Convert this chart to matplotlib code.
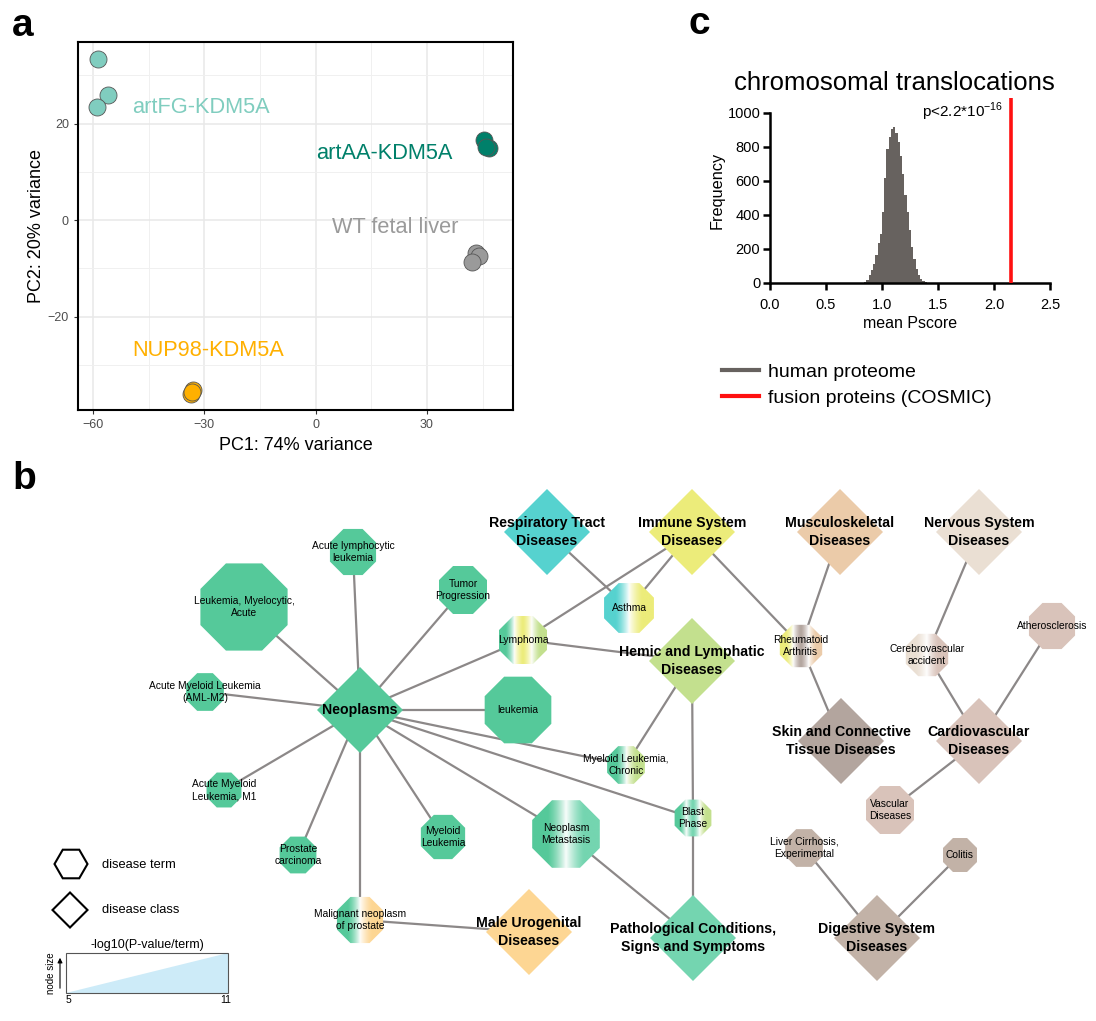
import numpy as np
import matplotlib
matplotlib.use('Agg')
import matplotlib.pyplot as plt
import matplotlib.colors as mcolors
from matplotlib.patches import RegularPolygon, Polygon, Rectangle
from matplotlib.lines import Line2D

plt.rcParams['font.family'] = ['Liberation Sans', 'DejaVu Sans']
plt.rcParams['mathtext.fontset'] = 'custom'
plt.rcParams['mathtext.rm'] = 'Liberation Sans'

W, H = 1096, 1021

# ---------------- panel a data (PCA) ----------------
pca_groups = ['artFG-KDM5A', 'artAA-KDM5A', 'WT fetal liver', 'NUP98-KDM5A']
pca_colors = ['#80cdbf', '#00806a', '#9a9a9a', '#ffb000']
pca_x = [[-58.7, -56.0, -58.9], [45.4, 46.8, 46.0], [43.2, 44.1, 42.2], [-33.0, -33.6, -33.4]]
pca_y = [[33.3, 25.9, 23.4], [16.6, 14.9, 15.1], [-6.8, -7.5, -8.7], [-35.2, -36.0, -35.6]]
pca_label_xy = [(-49.5, 23.4), (0.1, 13.9), (4.4, -1.6), (-49.5, -26.9)]

# ---------------- panel c data (histogram) ----------------
bin_centers = [0.85, 0.87, 0.89, 0.91, 0.93, 0.95, 0.97, 0.99, 1.01, 1.03, 1.05, 1.07,
               1.09, 1.11, 1.13, 1.15, 1.17, 1.19, 1.21, 1.23, 1.25, 1.27, 1.29, 1.31,
               1.33, 1.35, 1.37, 1.39]
bin_counts = [5, 20, 45, 75, 110, 165, 235, 290, 420, 620, 790, 860,
              905, 915, 880, 830, 745, 640, 520, 420, 310, 210, 140, 85,
              45, 22, 10, 4]
bin_width = 0.02
fusion_mean = 2.15

# ---------------- panel b data (disease network) ----------------
class_names = ['Neoplasms', 'Respiratory Tract\nDiseases', 'Immune System\nDiseases',
               'Musculoskeletal\nDiseases', 'Nervous System\nDiseases',
               'Hemic and Lymphatic\nDiseases', 'Skin and Connective\nTissue Diseases',
               'Cardiovascular\nDiseases', 'Male Urogenital\nDiseases',
               'Pathological Conditions,\nSigns and Symptoms', 'Digestive System\nDiseases']
class_keys = ['neo', 'resp', 'imm', 'musc', 'nerv', 'hem', 'skin', 'card', 'uro', 'path', 'dig']
class_x = [360, 547, 692, 840, 979, 692, 841, 979, 529, 693, 877]
class_y = [710, 532, 532, 532, 532, 661, 741, 741, 932, 938, 938]
class_colors = ['#55c99a', '#56d2cf', '#ecec7a', '#ebcba9', '#eadfd3', '#c3e08e',
                '#b3a59e', '#d9c3ba', '#fdd693', '#74d5b0', '#c2b2a7']

term_names = ['Leukemia, Myelocytic,\nAcute', 'Acute lymphocytic\nleukemia', 'Tumor\nProgression',
              'Lymphoma', 'Asthma', 'Acute Myeloid Leukemia\n(AML-M2)', 'leukemia',
              'Acute Myeloid\nLeukemia, M1', 'Myeloid Leukemia,\nChronic', 'Prostate\ncarcinoma',
              'Myeloid\nLeukemia', 'Neoplasm\nMetastasis', 'Blast\nPhase',
              'Malignant neoplasm\nof prostate', 'Rheumatoid\nArthritis', 'Cerebrovascular\naccident',
              'Atherosclerosis', 'Vascular\nDiseases', 'Liver Cirrhosis,\nExperimental', 'Colitis']
term_x = [244, 353, 463, 523, 629, 205, 518, 224, 626, 298, 443, 566, 693, 360,
          801, 927, 1052, 890, 804, 960]
term_y = [607, 552, 590, 640, 608, 692, 710, 790, 765, 855, 837, 834, 818, 920,
          646, 655, 626, 810, 848, 855]
term_logp = [10.7, 6.3, 6.5, 6.5, 6.7, 5.4, 8.5, 5.1, 5.4, 5.3, 6.1, 8.6, 5.3, 6.3,
             5.9, 5.9, 6.3, 6.5, 5.4, 5.0]
term_classes = [['neo'], ['neo'], ['neo'], ['neo', 'imm', 'hem'], ['resp', 'imm'], ['neo'], ['neo'],
                ['neo'], ['neo', 'hem'], ['neo'], ['neo'], ['neo', 'path'], ['neo', 'path', 'hem'],
                ['neo', 'uro'], ['imm', 'skin', 'musc'], ['nerv', 'card'],
                ['card'], ['card'], ['dig'], ['dig']]

edges = [('Neoplasms', 'Leukemia, Myelocytic,\nAcute'), ('Neoplasms', 'Acute lymphocytic\nleukemia'),
         ('Neoplasms', 'Tumor\nProgression'), ('Neoplasms', 'Lymphoma'),
         ('Neoplasms', 'Acute Myeloid Leukemia\n(AML-M2)'), ('Neoplasms', 'leukemia'),
         ('Neoplasms', 'Acute Myeloid\nLeukemia, M1'), ('Neoplasms', 'Myeloid Leukemia,\nChronic'),
         ('Neoplasms', 'Prostate\ncarcinoma'), ('Neoplasms', 'Myeloid\nLeukemia'),
         ('Neoplasms', 'Neoplasm\nMetastasis'), ('Neoplasms', 'Blast\nPhase'),
         ('Neoplasms', 'Malignant neoplasm\nof prostate'),
         ('Immune System\nDiseases', 'Lymphoma'), ('Hemic and Lymphatic\nDiseases', 'Lymphoma'),
         ('Respiratory Tract\nDiseases', 'Asthma'), ('Immune System\nDiseases', 'Asthma'),
         ('Immune System\nDiseases', 'Rheumatoid\nArthritis'),
         ('Musculoskeletal\nDiseases', 'Rheumatoid\nArthritis'),
         ('Skin and Connective\nTissue Diseases', 'Rheumatoid\nArthritis'),
         ('Hemic and Lymphatic\nDiseases', 'Myeloid Leukemia,\nChronic'),
         ('Hemic and Lymphatic\nDiseases', 'Blast\nPhase'),
         ('Pathological Conditions,\nSigns and Symptoms', 'Blast\nPhase'),
         ('Pathological Conditions,\nSigns and Symptoms', 'Neoplasm\nMetastasis'),
         ('Male Urogenital\nDiseases', 'Malignant neoplasm\nof prostate'),
         ('Nervous System\nDiseases', 'Cerebrovascular\naccident'),
         ('Cardiovascular\nDiseases', 'Cerebrovascular\naccident'),
         ('Cardiovascular\nDiseases', 'Atherosclerosis'),
         ('Cardiovascular\nDiseases', 'Vascular\nDiseases'),
         ('Digestive System\nDiseases', 'Liver Cirrhosis,\nExperimental'),
         ('Digestive System\nDiseases', 'Colitis')]

logp_range = [5, 11]

fig = plt.figure(figsize=(W / 100, H / 100), dpi=100)

# --- panel a ---
ax_a = fig.add_axes([78 / W, 1 - 410 / H, 435 / W, 368 / H])
ax_a.set_xlim(-64, 53.2)
ax_a.set_ylim(-39.3, 36.9)
ax_a.set_xticks([-60, -30, 0, 30])
ax_a.set_xticks([-45, -15, 15, 45], minor=True)
ax_a.set_yticks([-20, 0, 20])
ax_a.set_yticks([-30, -10, 10, 30], minor=True)
ax_a.grid(which='major', color='#e8e8e8', lw=1.1)
ax_a.grid(which='minor', color='#f0f0f0', lw=0.7)
ax_a.set_axisbelow(True)
ax_a.tick_params(which='minor', length=0)
ax_a.tick_params(which='major', length=3, color='#333333', labelcolor='#4d4d4d', labelsize=9)
for sp in ax_a.spines.values():
    sp.set_linewidth(1.5)
for i, g in enumerate(pca_groups):
    ax_a.scatter(pca_x[i], pca_y[i], s=150, color=pca_colors[i], edgecolors='#555555',
                 linewidths=0.6, zorder=3)
    ax_a.text(pca_label_xy[i][0], pca_label_xy[i][1], g, color=pca_colors[i], fontsize=15.7,
              ha='left', va='center')
ax_a.set_xlabel('PC1: 74% variance', fontsize=13, labelpad=4)
ax_a.set_ylabel('PC2: 20% variance', fontsize=13, labelpad=2)

# --- panel c ---
ax_c = fig.add_axes([770 / W, 1 - 283 / H, 280 / W, 185 / H])
ax_c.bar(bin_centers, bin_counts, width=bin_width, color='#67625f', linewidth=0, zorder=2)
ax_c.axvline(fusion_mean, color='#ff1010', lw=2.6, zorder=3)
ax_c.set_xlim(0, 2.5)
ax_c.set_ylim(0, 1088)
ax_c.spines['top'].set_visible(False)
ax_c.spines['right'].set_visible(False)
ax_c.spines['left'].set_bounds(0, 1000)
for sp in ['left', 'bottom']:
    ax_c.spines[sp].set_linewidth(1.8)
ax_c.set_xticks([0, 0.5, 1.0, 1.5, 2.0, 2.5])
ax_c.set_xticklabels(['0.0', '0.5', '1.0', '1.5', '2.0', '2.5'])
ax_c.set_yticks([0, 200, 400, 600, 800, 1000])
ax_c.tick_params(length=5, width=1.8, labelsize=10.5)
ax_c.tick_params(axis='x', pad=6)
ax_c.tick_params(axis='y', pad=2)
ax_c.set_xlabel('mean Pscore', fontsize=11.5, labelpad=3)
ax_c.set_ylabel('Frequency', fontsize=11.7, labelpad=2)
ax_c.set_title('chromosomal translocations', fontsize=18.5, pad=6, x=0.443)
ax_c.text(2.08, 1006, r'p<2.2*10$^{-16}$', ha='right', va='center', fontsize=11)
ax_c.patch.set_alpha(0)

fig.legend(handles=[Line2D([0], [0], color='#67625f', lw=3), Line2D([0], [0], color='#ff1010', lw=3)],
           labels=['human proteome', 'fusion proteins (COSMIC)'], loc='upper left',
           bbox_to_anchor=(722 / W, 1 - 363 / H), frameon=False, fontsize=14,
           handlelength=1.9, handletextpad=0.45, labelspacing=0.46, borderaxespad=0, borderpad=0)

# --- panel b ---
ax_b = fig.add_axes([0, 0, 1, 561 / H])
ax_b.set_axis_off()

pos = {}
for n, x, y in zip(class_names, class_x, class_y):
    pos[n] = (x, y)
for n, x, y in zip(term_names, term_x, term_y):
    pos[n] = (x, y)

for a, b in edges:
    ax_b.plot([pos[a][0], pos[b][0]], [pos[a][1], pos[b][1]], color='#8c8888', lw=1.6, zorder=1)

color_of = dict(zip(class_keys, class_colors))


def stripe_image(cols, n=240):
    rgb = np.array([mcolors.to_rgb(c) for c in cols])
    k = len(cols)
    t = (np.arange(n) + 0.5) / n * k
    idx = np.minimum(t.astype(int), k - 1)
    img = rgb[idx]
    if k > 1:
        bnd = np.arange(1, k)
        d = np.min(np.abs(t[:, None] - bnd[None, :]), axis=1)
        w = np.clip(1 - d / 0.5, 0, 1) ** 1.4 * 0.95
        img = img * (1 - w[:, None]) + w[:, None]
    return img[None, :, :]


def apothem(lp):
    return 17 + (lp - logp_range[0]) * 28 / (logp_range[1] - logp_range[0])


oct_r = 1 / np.cos(np.pi / 8)
for n, x, y, lp, cl in zip(term_names, term_x, term_y, term_logp, term_classes):
    R = apothem(lp) * oct_r
    if len(cl) == 1:
        ax_b.add_patch(RegularPolygon((x, y), 8, radius=R, orientation=np.pi / 8,
                                      facecolor=color_of[cl[0]], edgecolor='none', zorder=2))
    else:
        clip = RegularPolygon((x, y), 8, radius=R, orientation=np.pi / 8,
                              facecolor='none', edgecolor='none', zorder=2)
        ax_b.add_patch(clip)
        im = ax_b.imshow(stripe_image([color_of[c] for c in cl]), extent=(x - R, x + R, y + R, y - R),
                         interpolation='bilinear', zorder=2, aspect='auto')
        im.set_clip_path(clip)
    ax_b.text(x, y, n, ha='center', va='center', fontsize=7.4, zorder=4, linespacing=1.3)

for n, x, y, c in zip(class_names, class_x, class_y, class_colors):
    ax_b.add_patch(RegularPolygon((x, y), 4, radius=43, orientation=0,
                                  facecolor=c, edgecolor='none', zorder=2))
    ax_b.text(x, y, n, ha='center', va='center', fontsize=10.2, fontweight='bold',
              zorder=4, linespacing=1.3)

# legend of panel b
ax_b.add_patch(RegularPolygon((71, 864), 6, radius=16.5, orientation=np.pi / 6,
                              facecolor='white', edgecolor='black', lw=1.5))
ax_b.text(102, 865, 'disease term', fontsize=9.3, va='center')
ax_b.add_patch(RegularPolygon((70, 910), 4, radius=17.5, orientation=0,
                              facecolor='white', edgecolor='black', lw=1.5))
ax_b.text(102, 910, 'disease class', fontsize=9.3, va='center')
ax_b.add_patch(Polygon([(66, 993), (228, 953), (228, 993)], closed=True,
                       facecolor='#cdebf8', edgecolor='none'))
ax_b.add_patch(Rectangle((66, 953), 162, 40, facecolor='none', edgecolor='#555555', lw=0.8))
ax_b.text(147, 945, '-log10(P-value/term)', fontsize=9, ha='center', va='center')
ax_b.text(68, 1000, str(logp_range[0]), fontsize=7.5, ha='center', va='center')
ax_b.text(226, 1000, str(logp_range[1]), fontsize=7.5, ha='center', va='center')
ax_b.text(51, 973, 'node size', fontsize=7, rotation=90, ha='center', va='center')
ax_b.annotate('', xy=(60, 955), xytext=(60, 991),
              arrowprops=dict(arrowstyle='-|>', color='black', lw=0.8, mutation_scale=7))

ax_b.set_xlim(0, W)
ax_b.set_ylim(H, 460)

# panel letters
fig.text(12 / W, 1 - 36 / H, 'a', fontsize=28, fontweight='bold')
fig.text(12 / W, 1 - 489 / H, 'b', fontsize=28, fontweight='bold')
fig.text(689 / W, 1 - 34 / H, 'c', fontsize=28, fontweight='bold')

fig.savefig('out.png', dpi=100)
